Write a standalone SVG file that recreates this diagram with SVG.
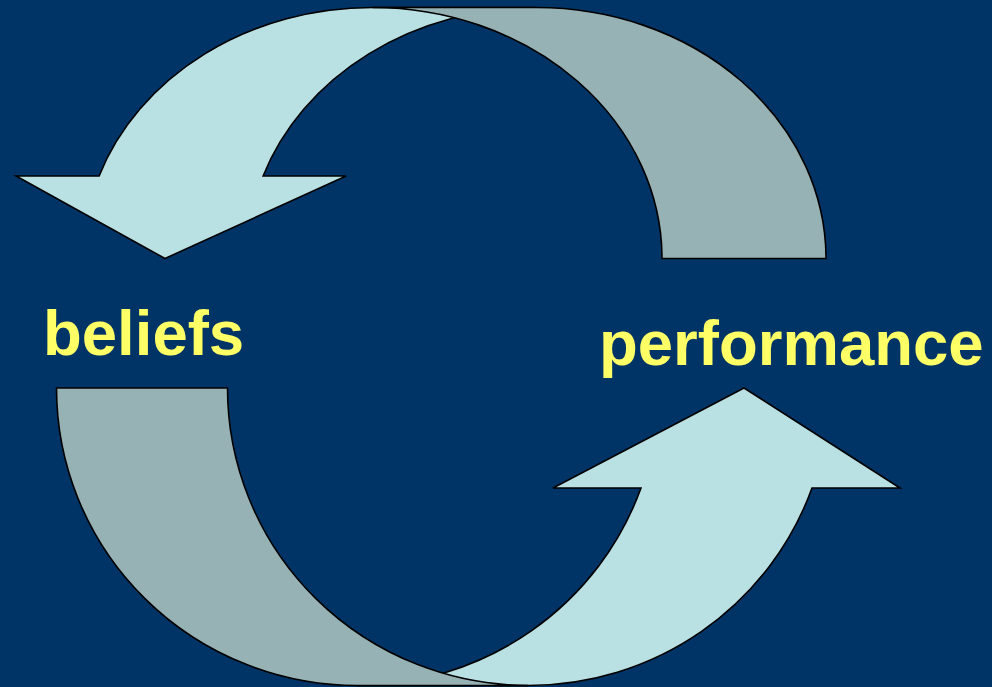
<svg xmlns="http://www.w3.org/2000/svg" width="992" height="687" viewBox="0 0 992 687">
  <style>
    .front { fill: #B9E0E3; stroke: #000; stroke-width: 1.6; stroke-linejoin: miter; }
    .back { fill: #96B2B4; stroke: #000; stroke-width: 1.6; stroke-linejoin: miter; }
    .label { font-family: "Liberation Sans", Arial, sans-serif; font-weight: bold; font-size: 63.5px; fill: #FFFF66; }
  </style>
  <rect x="0" y="0" width="992" height="687" fill="#003366"/>
  <g id="connectors">
    <g id="arrow-top">
      <path class="front" d="M165,258.5 L346.1,176 L263.1,176 A289.5,251 0 0 1 536.5,7.5 L372.5,7.5 A289.5,251 0 0 0 99.1,176 L16.1,176 Z"/>
      <path class="back" d="M372.5,7.5 A289.5,251 0 0 1 662,258.5 L826,258.5 A289.5,251 0 0 0 536.5,7.5 Z"/>
    </g>
    <g id="arrow-bottom">
      <path class="front" d="M744,388 L553,488 L641,488 A301,297.5 0 0 1 357.5,685.5 L528.5,685.5 A301,297.5 0 0 0 812,488 L900,488 Z"/>
      <path class="back" d="M528.5,685.5 A301,297.5 0 0 1 227.5,388 L56.5,388 A301,297.5 0 0 0 357.5,685.5 Z"/>
    </g>
  </g>
  <g id="node-beliefs">
    <text class="label" x="43" y="355">beliefs</text>
  </g>
  <g id="node-performance">
    <text class="label" x="599" y="365">performance</text>
  </g>
</svg>
